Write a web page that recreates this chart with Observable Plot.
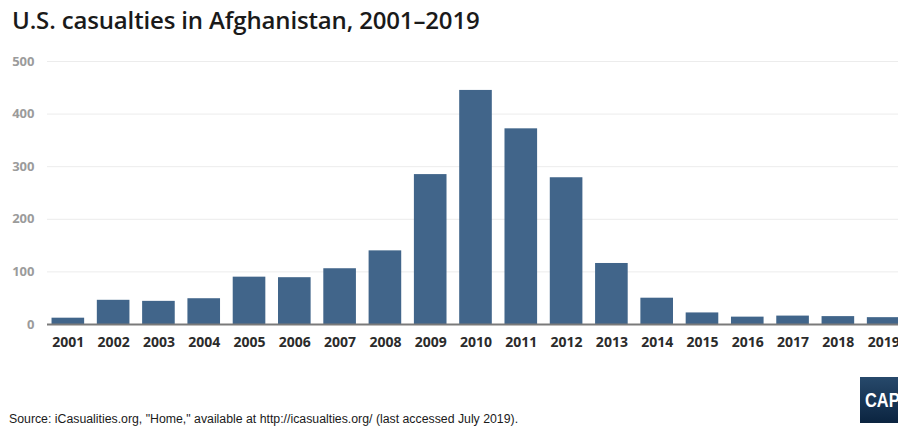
<!DOCTYPE html>
<html>
<head>
<meta charset="utf-8">
<script src="https://cdn.jsdelivr.net/npm/d3@7"></script>
<script src="https://cdn.jsdelivr.net/npm/@observablehq/plot@0.6"></script>
<style>
  html, body { margin: 0; padding: 0; background: #fff; overflow: hidden; width: 898px; height: 432px; }
  #wrap { position: relative; width: 898px; height: 432px; overflow: hidden; }
  #title { position: absolute; left: 12px; top: 3px; font-family: "Open Sans", sans-serif; font-weight: 600; font-size: 24px; color: #1a1a1a; white-space: nowrap; letter-spacing: -0.15px; }
  #chart { position: absolute; left: 0; top: 48px; width: 905px; }
  #chart svg { max-width: none !important; }
  #caption { position: absolute; left: 9px; top: 412px; font-family: "Liberation Sans", sans-serif; font-size: 12.3px; color: #1a1a1a; white-space: nowrap; }
  #logo { position: absolute; left: 860px; top: 377px; width: 44px; height: 46px; background: linear-gradient(#27496b, #0b2440); color: #fff; font-family: "Liberation Sans", sans-serif; font-weight: 700; font-size: 21px; line-height: 46px; padding-left: 5px; box-sizing: border-box; white-space: nowrap; }
  #logo span { display: inline-block; transform: scaleX(0.78); transform-origin: left center; }
</style>
</head>
<body>
<div id="wrap">
  <div id="title">U.S. casualties in Afghanistan, 2001–2019</div>
  <div id="chart"></div>
  <div id="caption">Source: iCasualities.org, "Home," available at http://icasualties.org/ (last accessed July 2019).</div>
  <div id="logo"><span>CAP</span></div>
</div>
<script>
const years = ["2001","2002","2003","2004","2005","2006","2007","2008","2009","2010","2011","2012","2013","2014","2015","2016","2017","2018","2019"];
const casualties = [12, 46, 44, 49, 90, 89, 106, 140, 285, 445, 372, 279, 116, 50, 22, 14, 16, 15, 13];
const yTicks = [0, 100, 200, 300, 400, 500];

const data = years.map((year, i) => ({year, value: casualties[i]}));

const chart = Plot.plot({
  width: 905,
  height: 310,
  marginLeft: 47,
  marginRight: 1,
  marginTop: 13,
  marginBottom: 34,
  style: {background: "transparent", overflow: "visible", maxWidth: "none"},
  x: {domain: years, paddingInner: 0.28, paddingOuter: 0.1, round: false, label: null},
  y: {domain: [0, 500], label: null},
  marks: [
    Plot.gridY(yTicks.filter(d => d > 0), {stroke: "#ececec", strokeOpacity: 1, strokeWidth: 1}),
    Plot.barY(data, {x: "year", y: "value", fill: "#41658a"}),
    Plot.ruleY([0], {stroke: "#7a7a7a", strokeWidth: 2}),
    Plot.axisY({ticks: yTicks, tickSize: 0, tickPadding: 13, fontSize: 13, fontWeight: 700, fill: "#9b9b9b", fontFamily: "Open Sans", label: null}),
    Plot.axisX({tickSize: 0, tickPadding: 13, fontSize: 14, fontWeight: 700, fill: "#2b2b2b", fontFamily: "Open Sans", label: null})
  ]
});
document.getElementById("chart").appendChild(chart);
</script>
</body>
</html>
